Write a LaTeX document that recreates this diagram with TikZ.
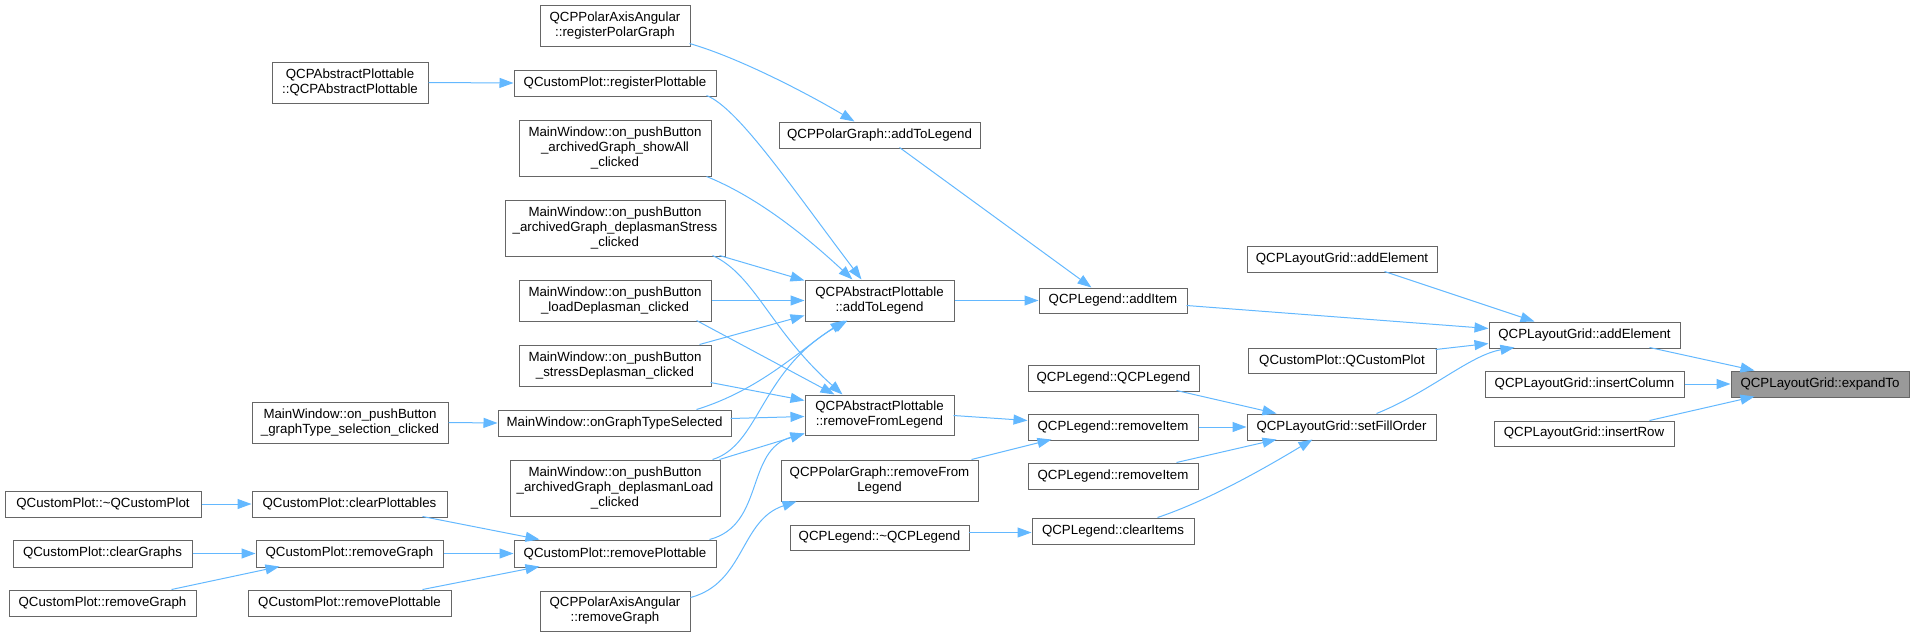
\documentclass[tikz,border=0pt]{standalone}
\usepackage{fontspec}
\setmainfont{Liberation Sans}
\usetikzlibrary{arrows.meta}
\definecolor{edgec}{HTML}{63B8FF}
\definecolor{boxc}{HTML}{666666}
\definecolor{hl}{HTML}{999999}
\newcommand\mknode[7][]{\node[box,#1,minimum width=#5pt,minimum height=#6pt] (#2) at (#3,#4) {#7};}
\begin{document}
\begin{tikzpicture}[x=1pt,y=-1pt,
  box/.style={draw=boxc,line width=1pt,fill=white,inner sep=0pt,align=center,font=\fontsize{13.3}{15}\selectfont},
  edge/.style={draw=edgec,line width=1pt,-{Triangle[length=14pt,width=10pt]}}]
\useasboundingbox (0,0) rectangle (1914,637);
% nodes
\mknode{A1}{350}{82.5}{156}{41}{QCPAbstractPlottable\\::QCPAbstractPlottable}
\mknode{PAreg}{615}{25.5}{150}{41}{QCPPolarAxisAngular\\::registerPolarGraph}
\mknode{regP}{615}{83}{202}{26}{QCustomPlot::registerPlottable}
\mknode{showAll}{615}{148}{192}{56}{MainWindow::on\_pushButton\\\_archivedGraph\_showAll\\\_clicked}
\mknode{dStress}{615}{228}{220}{56}{MainWindow::on\_pushButton\\\_archivedGraph\_deplasmanStress\\\_clicked}
\mknode{loadD}{615}{300.5}{192}{41}{MainWindow::on\_pushButton\\\_loadDeplasman\_clicked}
\mknode{stressD}{615}{365.5}{192}{41}{MainWindow::on\_pushButton\\\_stressDeplasman\_clicked}
\mknode{onGTS}{614.5}{423}{233}{26}{MainWindow::onGraphTypeSelected}
\mknode{dLoad}{615}{488}{210}{56}{MainWindow::on\_pushButton\\\_archivedGraph\_deplasmanLoad\\\_clicked}
\mknode{rmPmid}{615}{553.5}{202}{27}{QCustomPlot::removePlottable}
\mknode{PArm}{615}{611}{150}{40}{QCPPolarAxisAngular\\::removeGraph}
\mknode{gtsc}{350}{422.5}{196}{41}{MainWindow::on\_pushButton\\\_graphType\_selection\_clicked}
\mknode{destr}{103}{504}{196}{26}{QCustomPlot::\textasciitilde QCustomPlot}
\mknode{clearPl}{349.5}{504}{195}{26}{QCustomPlot::clearPlottables}
\mknode{clearG}{102.5}{553.5}{179}{27}{QCustomPlot::clearGraphs}
\mknode{rmGmid}{349.5}{553.5}{187}{27}{QCustomPlot::removeGraph}
\mknode{rmGleft}{102.5}{603}{187}{26}{QCustomPlot::removeGraph}
\mknode{rmPleft}{349.5}{603}{203}{26}{QCustomPlot::removePlottable}
\mknode{PGadd}{879.5}{135}{201}{26}{QCPPolarGraph::addToLegend}
\mknode{APadd}{879.5}{300.5}{149}{41}{QCPAbstractPlottable\\::addToLegend}
\mknode{APrm}{879.5}{415}{149}{40}{QCPAbstractPlottable\\::removeFromLegend}
\mknode{PGrm}{879.5}{480.5}{197}{41}{QCPPolarGraph::removeFrom\\Legend}
\mknode{lgDestr}{879.5}{537.5}{179}{25}{QCPLegend::\textasciitilde QCPLegend}
\mknode{addItem}{1113}{300.5}{148}{25}{QCPLegend::addItem}
\mknode{LegCtor}{1113.5}{378}{171}{26}{QCPLegend::QCPLegend}
\mknode{rmItemA}{1113}{427}{170}{26}{QCPLegend::removeItem}
\mknode{rmItemB}{1113}{476}{170}{26}{QCPLegend::removeItem}
\mknode{clearItems}{1113}{531}{162}{26}{QCPLegend::clearItems}
\mknode{addElemU}{1342}{259}{190}{26}{QCPLayoutGrid::addElement}
\mknode{QCPctor}{1342}{360.5}{188}{25}{QCustomPlot::QCustomPlot}
\mknode{setFill}{1341.5}{427}{189}{26}{QCPLayoutGrid::setFillOrder}
\mknode{addElemR}{1584.5}{335}{191}{26}{QCPLayoutGrid::addElement}
\mknode{insCol}{1584.5}{384}{199}{26}{QCPLayoutGrid::insertColumn}
\mknode{insRow}{1584}{433.5}{180}{25}{QCPLayoutGrid::insertRow}
\mknode[fill=hl]{expandTo}{1820}{384}{178}{26}{QCPLayoutGrid::expandTo}
% edges
\draw[edge] (A1.east) -- (regP.west);
\draw[edge] ([shift={(150,39)}]PAreg.north west) .. controls (740,58) and (810,95) .. ([shift={(76,0)}]PGadd.north west);
\draw[edge] ([shift={(193,26)}]regP.north west) .. controls (738,108) and (790,185) .. ([shift={(57,0)}]APadd.north west);
\draw[edge] ([shift={(188,57)}]showAll.north west) .. controls (760,198) and (810,240) .. ([shift={(48,0)}]APadd.north west);
\draw[edge] ([shift={(215,56)}]dStress.north west) -- ([shift={(0,1)}]APadd.north west);
\draw[edge] ([shift={(208,56)}]dStress.north west) .. controls (755,275) and (770,330) .. ([shift={(38,0)}]APrm.north west);
\draw[edge] (loadD.east) -- (APadd.west);
\draw[edge] ([shift={(178,41)}]loadD.north west) -- ([shift={(30,0)}]APrm.north west);
\draw[edge] ([shift={(181,0)}]stressD.north west) -- ([shift={(0,36)}]APadd.north west);
\draw[edge] ([shift={(192,38)}]stressD.north west) -- ([shift={(0,6)}]APrm.north west);
\draw[edge] ([shift={(199,0)}]onGTS.north west) .. controls (760,390) and (800,350) .. ([shift={(40,41)}]APadd.north west);
\draw[edge] ([shift={(233,9)}]onGTS.north west) -- ([shift={(0,22)}]APrm.north west);
\draw[edge] ([shift={(203,0)}]dLoad.north west) .. controls (760,445) and (760,370) .. ([shift={(43,41)}]APadd.north west);
\draw[edge] ([shift={(210,0)}]dLoad.north west) -- ([shift={(0,39)}]APrm.north west);
\draw[edge] (gtsc.east) -- (onGTS.west);
\draw[edge] (destr.east) -- (clearPl.west);
\draw[edge] ([shift={(171,26)}]clearPl.north west) -- ([shift={(26,0)}]rmPmid.north west);
\draw[edge] (clearG.east) -- (rmGmid.west);
\draw[edge] ([shift={(163,0)}]rmGleft.north west) -- ([shift={(24,27)}]rmGmid.north west);
\draw[edge] (rmGmid.east) -- (rmPmid.west);
\draw[edge] ([shift={(175,0)}]rmPleft.north west) -- ([shift={(26,27)}]rmPmid.north west);
\draw[edge] ([shift={(196,0)}]rmPmid.north west) .. controls (765,525) and (745,450) .. ([shift={(0,39)}]APrm.north west);
\draw[edge] ([shift={(151,7)}]PArm.north west) .. controls (745,583) and (740,520) .. ([shift={(16,42)}]PGrm.north west);
\draw[edge] ([shift={(121,26)}]PGadd.north west) -- ([shift={(53,0)}]addItem.north west);
\draw[edge] (APadd.east) -- (addItem.west);
\draw[edge] ([shift={(149,21)}]APrm.north west) -- ([shift={(0,7)}]rmItemA.north west);
\draw[edge] ([shift={(191,0)}]PGrm.north west) -- ([shift={(24,26)}]rmItemA.north west);
\draw[edge] ([shift={(179,8)}]lgDestr.north west) -- ([shift={(0,15)}]clearItems.north west);
\draw[edge] ([shift={(148,18)}]addItem.north west) -- ([shift={(0,7)}]addElemR.north west);
\draw[edge] ([shift={(138,26)}]addElemU.north west) -- ([shift={(46,0)}]addElemR.north west);
\draw[edge] ([shift={(188,2)}]QCPctor.north west) -- ([shift={(0,22)}]addElemR.north west);
\draw[edge] ([shift={(130,0)}]setFill.north west) .. controls (1430,392) and (1470,355) .. ([shift={(26,26)}]addElemR.north west);
\draw[edge] ([shift={(149,26)}]LegCtor.north west) -- ([shift={(30,0)}]setFill.north west);
\draw[edge] (rmItemA.east) -- (setFill.west);
\draw[edge] ([shift={(149,0)}]rmItemB.north west) -- ([shift={(30,26)}]setFill.north west);
\draw[edge] ([shift={(126,0)}]clearItems.north west) .. controls (1210,500) and (1270,465) .. ([shift={(66,26)}]setFill.north west);
\draw[edge] ([shift={(161,26)}]addElemR.north west) -- ([shift={(24,0)}]expandTo.north west);
\draw[edge] (insCol.east) -- (expandTo.west);
\draw[edge] ([shift={(156,0)}]insRow.north west) -- ([shift={(24,26)}]expandTo.north west);
\end{tikzpicture}
\end{document}
